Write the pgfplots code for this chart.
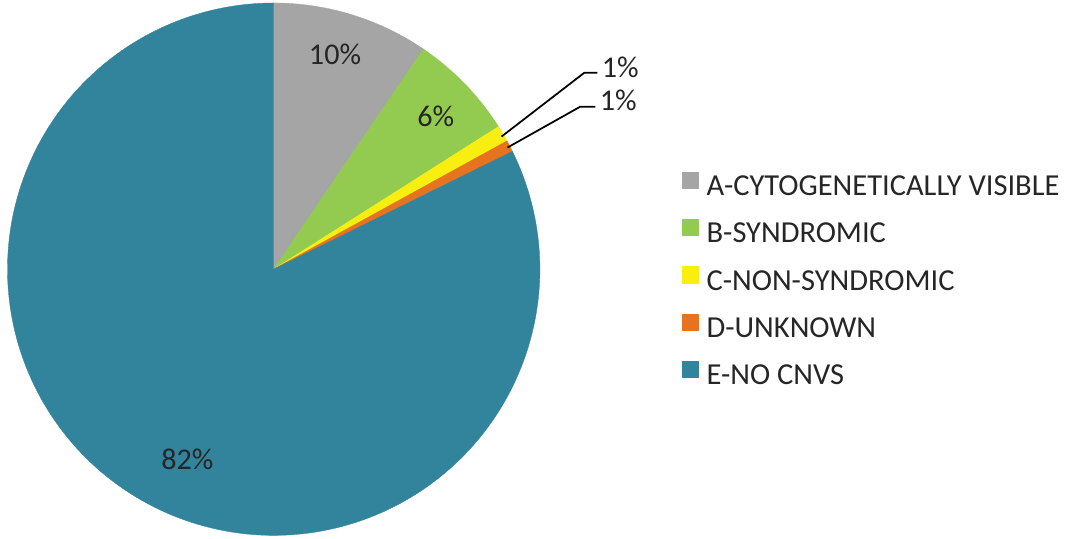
\documentclass[border=0pt]{standalone}
\usepackage{pgfplots}
\pgfplotsset{compat=1.18}
\usepackage{fontspec}
\setmainfont{Carlito}
\definecolor{cA}{HTML}{A5A5A5}
\definecolor{cB}{HTML}{92CB4F}
\definecolor{cC}{HTML}{F8EE10}
\definecolor{cD}{HTML}{E8731E}
\definecolor{cE}{HTML}{31849B}
\definecolor{txt}{HTML}{262626}
% slice values (percent)
\def\vA{9.5}\def\vB{6.5}\def\vC{1.0}\def\vD{0.7}\def\vE{82.3}
\pgfmathsetmacro\sA{90}
\pgfmathsetmacro\eA{\sA-3.6*\vA}
\pgfmathsetmacro\eB{\eA-3.6*\vB}
\pgfmathsetmacro\eC{\eB-3.6*\vC}
\pgfmathsetmacro\eD{\eC-3.6*\vD}
\pgfmathsetmacro\eE{\eD-3.6*\vE}
\def\cx{274.5}\def\cy{270}\def\R{267}
\begin{document}
\begin{tikzpicture}
\begin{axis}[
  scale only axis, width=10.68cm, height=5.4cm,
  xmin=0, xmax=1068, ymin=0, ymax=540,
  hide axis, clip=false,
  every axis plot/.append style={line join=round},
  legend style={at={(axis cs:683,368)}, anchor=north west, draw=none, fill=none,
    font=\fontsize{8.7}{10}\selectfont, text=txt, inner sep=0pt,
    row sep=5.2pt, nodes={inner sep=0pt, inner xsep=2.4pt, text height=6.3pt, text depth=1.5pt}},
  legend cell align=left,
  legend image code/.code={\fill[#1] (0pt,-0.3pt) rectangle (4.6pt,4.3pt);},
]
\addplot[fill=cA, draw=cA, line width=0.1pt, domain=\eA:\sA, samples=40, variable=\t]
  ({\cx+\R*cos(\t)},{\cy+\R*sin(\t)}) -- (axis cs:\cx,\cy) -- cycle;
\addlegendentry{A-CYTOGENETICALLY VISIBLE}
\addplot[fill=cB, draw=cB, line width=0.1pt, domain=\eB:\eA, samples=30, variable=\t]
  ({\cx+\R*cos(\t)},{\cy+\R*sin(\t)}) -- (axis cs:\cx,\cy) -- cycle;
\addlegendentry{B-SYNDROMIC}
\addplot[fill=cC, draw=cC, line width=0.1pt, domain=\eC:\eB, samples=8, variable=\t]
  ({\cx+\R*cos(\t)},{\cy+\R*sin(\t)}) -- (axis cs:\cx,\cy) -- cycle;
\addlegendentry{C-NON-SYNDROMIC}
\addplot[fill=cD, draw=cD, line width=0.1pt, domain=\eD:\eC, samples=8, variable=\t]
  ({\cx+\R*cos(\t)},{\cy+\R*sin(\t)}) -- (axis cs:\cx,\cy) -- cycle;
\addlegendentry{D-UNKNOWN}
\addplot[fill=cE, draw=cE, line width=0.1pt, domain=\eE:\eD, samples=200, variable=\t]
  ({\cx+\R*cos(\t)},{\cy+\R*sin(\t)}) -- (axis cs:\cx,\cy) -- cycle;
\addlegendentry{E-NO CNVS}
% data labels
\node[font=\fontsize{8.6}{10}\selectfont, text=txt] at (axis cs:336,485) {10\%};
\node[font=\fontsize{8.6}{10}\selectfont, text=txt] at (axis cs:437,423) {6\%};
\node[font=\fontsize{8.6}{10}\selectfont, text=txt] at (axis cs:188,79) {82\%};
% leader lines
\draw[black, line width=0.5pt] (axis cs:503,403) -- (axis cs:586,467) -- (axis cs:599,467);
\draw[black, line width=0.5pt] (axis cs:509,392) -- (axis cs:582,433) -- (axis cs:597,433);
\node[font=\fontsize{8.6}{10}\selectfont, text=txt, anchor=west, inner sep=0pt] at (axis cs:603,472) {1\%};
\node[font=\fontsize{8.6}{10}\selectfont, text=txt, anchor=west, inner sep=0pt] at (axis cs:601,439) {1\%};
\path (rel axis cs:0,0) rectangle (rel axis cs:1,1);
\end{axis}
\end{tikzpicture}
\end{document}
